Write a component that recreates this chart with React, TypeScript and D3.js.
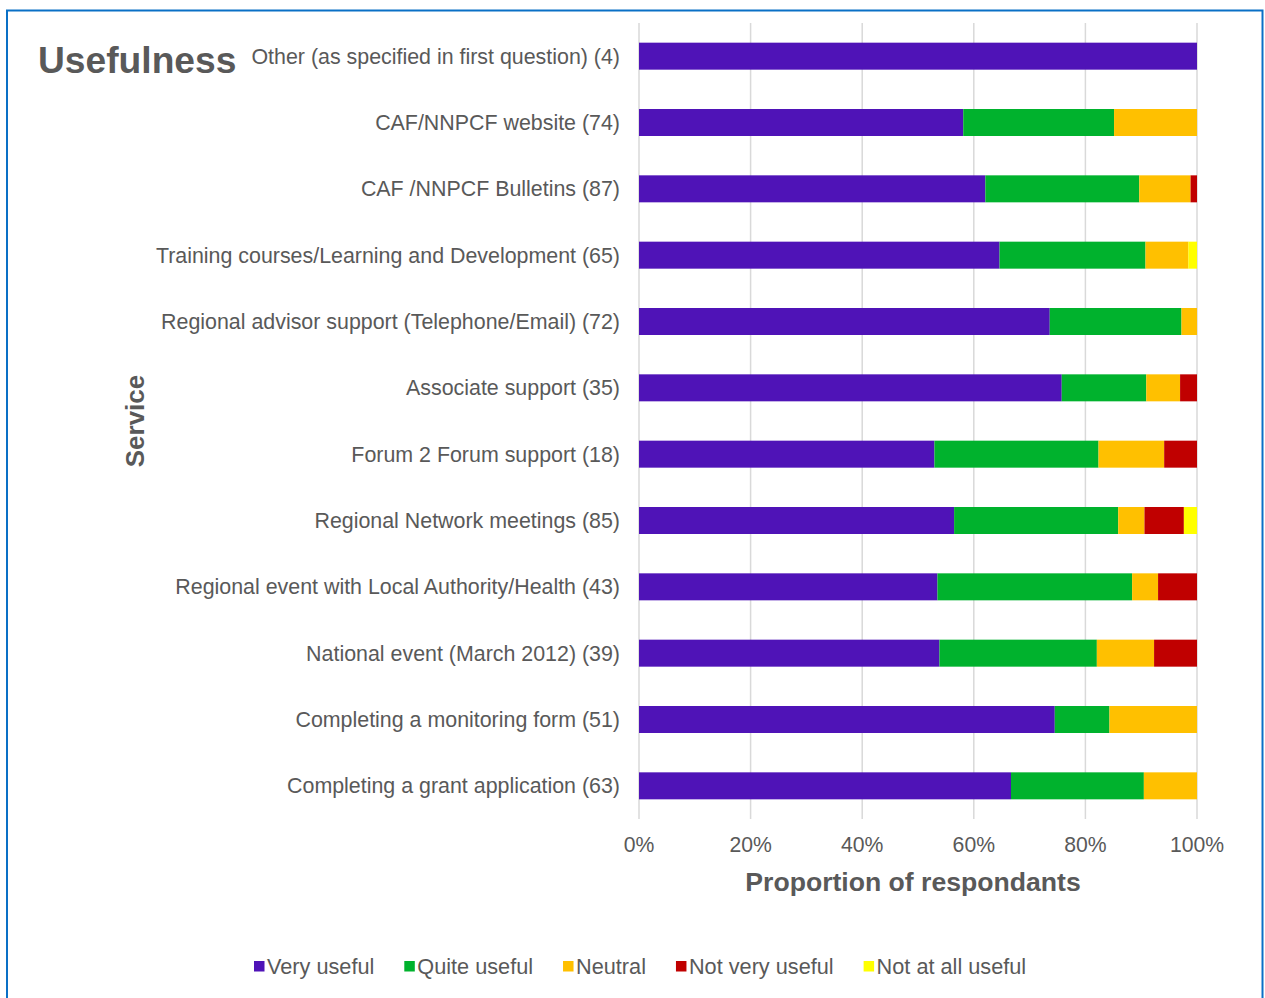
import React, { useEffect, useRef } from "react";
import * as d3 from "d3";

const categories = [
  "Other (as specified in first question) (4)",
  "CAF/NNPCF website (74)",
  "CAF /NNPCF Bulletins (87)",
  "Training courses/Learning and Development (65)",
  "Regional advisor support (Telephone/Email) (72)",
  "Associate support (35)",
  "Forum 2 Forum support (18)",
  "Regional Network meetings (85)",
  "Regional event with Local Authority/Health (43)",
  "National event (March 2012) (39)",
  "Completing a monitoring form (51)",
  "Completing a grant application (63)",
];

const seriesNames = ["Very useful", "Quite useful", "Neutral", "Not very useful", "Not at all useful"];
const seriesColors = ["#4f13b7", "#00b22d", "#ffc000", "#c00000", "#ffff00"];

// response counts per category (read from proportions)
const veryUseful = [4, 43, 54, 42, 53, 25, 9, 48, 23, 21, 38, 42];
const quiteUseful = [0, 20, 24, 17, 17, 5, 5, 25, 15, 11, 5, 15];
const neutral = [0, 11, 8, 5, 2, 2, 2, 4, 2, 4, 8, 6];
const notVeryUseful = [0, 0, 1, 0, 0, 1, 1, 6, 3, 3, 0, 0];
const notAtAllUseful = [0, 0, 0, 1, 0, 0, 0, 2, 0, 0, 0, 0];

const xTicks = [0, 0.2, 0.4, 0.6, 0.8, 1];

const FONT = "'Liberation Sans', Arial, sans-serif";
const TEXT = "#595959";

export default function App() {
  const ref = useRef<SVGSVGElement>(null);

  useEffect(() => {
    const svg = d3.select(ref.current);
    svg.selectAll("*").remove();
    const W = 1265, H = 998;
    const m = { left: 639, right: 1197, top: 23, bottom: 819 };

    svg.append("rect").attr("x", 0).attr("y", 0).attr("width", W).attr("height", H).attr("fill", "#fff");
    svg.append("rect")
      .attr("x", 7).attr("y", 10.5).attr("width", 1255.5).attr("height", 1100)
      .attr("fill", "none").attr("stroke", "#0a70c6").attr("stroke-width", 2);

    const x = d3.scaleLinear().domain([0, 1]).range([m.left, m.right]);
    const y = d3.scaleBand().domain(categories).range([m.top, m.bottom]).paddingInner(0.593).paddingOuter(0.2965);

    // grid
    svg.append("g").selectAll("line").data(xTicks).join("line")
      .attr("x1", (d) => x(d)).attr("x2", (d) => x(d))
      .attr("y1", m.top).attr("y2", m.bottom)
      .attr("stroke", "#d9d9d9").attr("stroke-width", 1.5);

    const rows = categories.map((c, i) => {
      const vals = [veryUseful[i], quiteUseful[i], neutral[i], notVeryUseful[i], notAtAllUseful[i]];
      const total = d3.sum(vals);
      const o: any = { cat: c };
      seriesNames.forEach((s, j) => (o[s] = vals[j] / total));
      return o;
    });
    const stacked = d3.stack().keys(seriesNames)(rows);

    svg.append("g").selectAll("g").data(stacked).join("g")
      .attr("fill", (_d, i) => seriesColors[i])
      .selectAll("rect").data((d) => d).join("rect")
      .attr("x", (d) => x(d[0]))
      .attr("width", (d) => Math.max(0, x(d[1]) - x(d[0])))
      .attr("y", (d: any) => y(d.data.cat)!)
      .attr("height", y.bandwidth());

    // category labels
    svg.append("g").selectAll("text").data(categories).join("text")
      .attr("x", 620).attr("y", (d) => y(d)! + y.bandwidth() / 2)
      .attr("dy", "0.35em").attr("text-anchor", "end")
      .attr("font-family", FONT).attr("font-size", 21.4).attr("fill", TEXT)
      .text((d) => d);

    // x ticks
    svg.append("g").selectAll("text").data(xTicks).join("text")
      .attr("x", (d) => x(d)).attr("y", 852).attr("text-anchor", "middle")
      .attr("font-family", FONT).attr("font-size", 21.2).attr("fill", TEXT)
      .text((d) => d3.format(".0%")(d));

    svg.append("text").attr("x", 913).attr("y", 891).attr("text-anchor", "middle")
      .attr("font-family", FONT).attr("font-size", 26.6).attr("font-weight", "bold").attr("fill", TEXT)
      .text("Proportion of respondants");

    svg.append("text").attr("transform", "translate(144,421) rotate(-90)").attr("text-anchor", "middle")
      .attr("font-family", FONT).attr("font-size", 26).attr("font-weight", "bold").attr("fill", TEXT)
      .text("Service");

    svg.append("text").attr("x", 38).attr("y", 73)
      .attr("font-family", FONT).attr("font-size", 37.2).attr("font-weight", "bold").attr("fill", TEXT)
      .text("Usefulness");

    // legend
    const lg = svg.append("g");
    let lx = 254;
    seriesNames.forEach((s, i) => {
      lg.append("rect").attr("x", lx).attr("y", 961).attr("width", 10.5).attr("height", 10.5).attr("fill", seriesColors[i]);
      const t = lg.append("text").attr("x", lx + 13).attr("y", 974)
        .attr("font-family", FONT).attr("font-size", 21.7).attr("fill", TEXT).text(s);
      const w = (t.node() as SVGTextElement).getComputedTextLength();
      lx = lx + 13 + w + 30;
    });
  }, []);

  return (
    <svg ref={ref} width={1265} height={998} style={{ position: "absolute", left: 0, top: 0 }} />
  );
}
